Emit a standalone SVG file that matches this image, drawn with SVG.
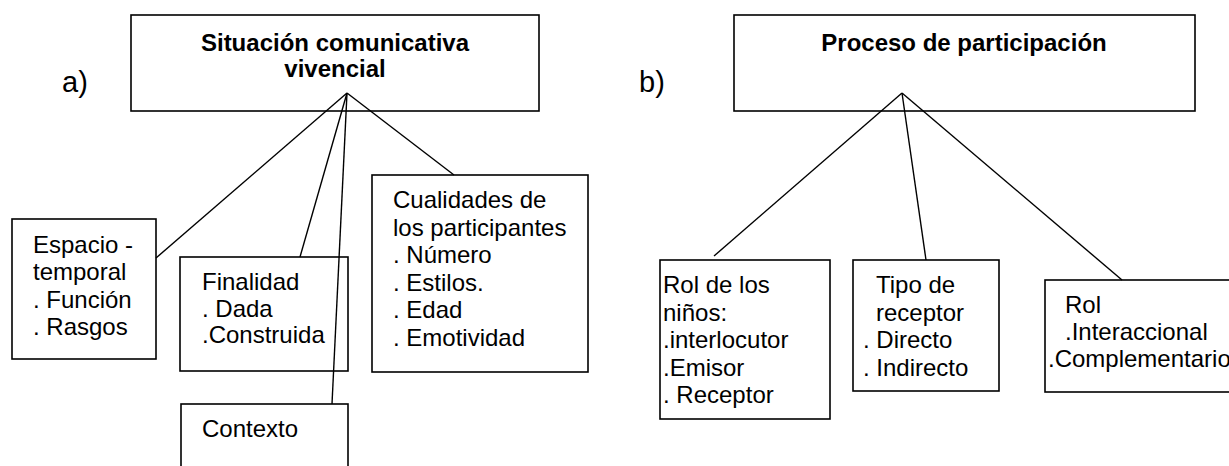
<svg xmlns="http://www.w3.org/2000/svg" width="1229" height="466" viewBox="0 0 1229 466">
<style>
.box{fill:#fff;stroke:#000;stroke-width:1.6}
.con line{stroke:#000;stroke-width:1.4}
text{font-family:"Liberation Sans",Arial,sans-serif;font-size:24px;fill:#000}
.h{font-weight:bold;text-anchor:middle}
.lab{font-size:29px}
</style>
<rect width="1229" height="466" fill="#fff"/>
<text class="lab" x="62" y="92">a)</text>
<text class="lab" x="639" y="92">b)</text>
<g id="n-situacion">
<rect class="box" x="131" y="15" width="408" height="96"/>
<text class="h" x="335" y="51">Situación comunicativa</text>
<text class="h" x="335" y="77">vivencial</text>
</g>
<g id="n-proceso">
<rect class="box" x="734" y="15" width="461" height="96"/>
<text class="h" x="964" y="51">Proceso de participación</text>
</g>
<g id="n-espacio">
<rect class="box" x="12" y="219" width="144" height="140"/>
<text x="33" y="253">Espacio -</text>
<text x="33" y="280">temporal</text>
<text x="33" y="308">. Función</text>
<text x="33" y="335">. Rasgos</text>
</g>
<g id="n-finalidad">
<rect class="box" x="180" y="257" width="168" height="114"/>
<text x="202" y="290">Finalidad</text>
<text x="202" y="317">. Dada</text>
<text x="202" y="343">.Construida</text>
</g>
<g id="n-contexto">
<rect class="box" x="181" y="404" width="167" height="70"/>
<text x="202" y="437">Contexto</text>
</g>
<g id="n-cualidades">
<rect class="box" x="372" y="175" width="216" height="197"/>
<text x="393" y="208">Cualidades de</text>
<text x="393" y="236">los participantes</text>
<text x="393" y="263">. Número</text>
<text x="393" y="291">. Estilos.</text>
<text x="393" y="318">. Edad</text>
<text x="393" y="346">. Emotividad</text>
</g>
<g id="n-rolninos">
<rect class="box" x="660" y="260" width="170" height="159"/>
<text x="663" y="293">Rol de los</text>
<text x="663" y="321">niños:</text>
<text x="663" y="348">.interlocutor</text>
<text x="663" y="376">.Emisor</text>
<text x="663" y="403">. Receptor</text>
</g>
<g id="n-tipo">
<rect class="box" x="853" y="260" width="146" height="131"/>
<text x="876" y="293">Tipo de</text>
<text x="876" y="321">receptor</text>
<text x="863" y="348">. Directo</text>
<text x="863" y="376">. Indirecto</text>
</g>
<g id="n-rol">
<rect class="box" x="1045" y="280" width="200" height="112"/>
<text x="1065" y="313">Rol</text>
<text x="1065" y="340">.Interaccional</text>
<text x="1048" y="367">.Complementario</text>
</g>
<g id="connectors" class="con">
<line x1="347" y1="93" x2="156" y2="258"/>
<line x1="347" y1="93" x2="300" y2="257"/>
<line x1="347" y1="93" x2="332" y2="404"/>
<line x1="347" y1="93" x2="454" y2="175"/>
<line x1="902" y1="93" x2="714" y2="256"/>
<line x1="902" y1="93" x2="926" y2="260"/>
<line x1="902" y1="93" x2="1122" y2="280"/>
</g>
</svg>
